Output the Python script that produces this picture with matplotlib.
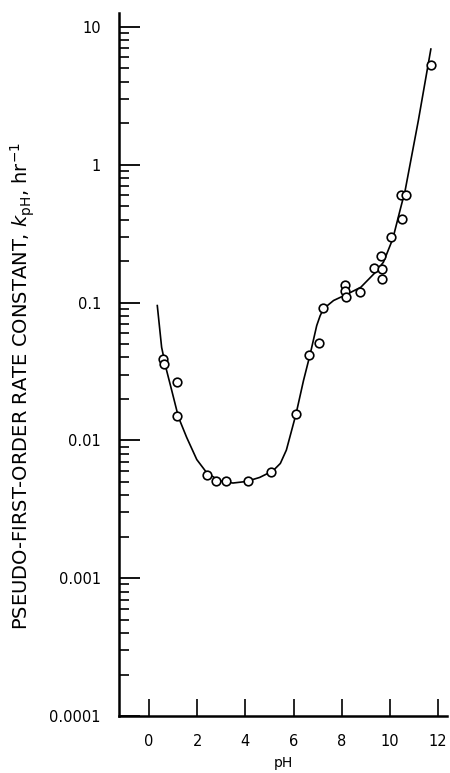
import numpy as np
import matplotlib
matplotlib.use("Agg")
import matplotlib.pyplot as plt
from matplotlib.ticker import LogLocator, FixedLocator, NullLocator

plt.rcParams['font.family'] = ['DejaVu Sans']
plt.rcParams['mathtext.fontset'] = 'dejavusans'

# measured points (pH, k)
ph_obs = [0.59, 0.63, 1.14, 1.17, 2.41, 2.77, 3.18, 4.09, 5.08, 6.10, 6.65, 7.07,
          7.23, 8.14, 8.14, 8.16, 8.76, 9.34, 9.66, 9.66, 9.62, 10.03, 10.51,
          10.45, 10.65, 11.71]
k_obs = [0.039, 0.0358, 0.0266, 0.0149, 0.00556, 0.00503, 0.00503, 0.00503,
         0.00588, 0.0155, 0.0419, 0.0506, 0.0915, 0.133, 0.121, 0.109, 0.119,
         0.179, 0.176, 0.149, 0.216, 0.298, 0.406, 0.60, 0.60, 5.25]

# fitted curve
ph_fit = [0.34, 0.52, 0.71, 0.94, 1.22, 1.56, 1.98, 2.40, 2.93, 3.48, 4.04, 4.59,
          5.14, 5.45, 5.70, 6.10, 6.41, 6.69, 6.96, 7.10, 7.24, 7.66, 8.18, 8.79,
          9.36, 9.73, 10.12, 10.42, 10.63, 11.18, 11.70]
k_fit = [0.095, 0.0473, 0.033, 0.023, 0.0147, 0.0105, 0.00725, 0.0058, 0.00509,
         0.0049, 0.00503, 0.00538, 0.006, 0.0068, 0.0085, 0.0155, 0.0271, 0.0423,
         0.068, 0.080, 0.090, 0.1034, 0.114, 0.129, 0.163, 0.196, 0.29, 0.467,
         0.647, 2.09, 6.9]

x_ticks = [0, 2, 4, 6, 8, 10, 12]
y_ticks = [0.0001, 0.001, 0.01, 0.1, 1, 10]
y_tick_labels = ['0.0001', '0.001', '0.01', '0.1', '1', '10']

fig = plt.figure(figsize=(4.5, 7.73), dpi=100)
ax = fig.add_axes([119 / 450, 57 / 773, 328 / 450, 703 / 773])

ax.plot(ph_fit, k_fit, color='black', linewidth=1.2)
ax.plot(ph_obs, k_obs, linestyle='none', marker='o', markersize=6.2,
        markerfacecolor='white', markeredgecolor='black', markeredgewidth=1.2)

ax.set_yscale('log')
ax.set_xlim(-1.25, 12.37)
ax.set_ylim(1e-4, 12.6)

ax.xaxis.set_major_locator(FixedLocator(x_ticks))
ax.xaxis.set_minor_locator(NullLocator())
ax.set_xticklabels([str(t) for t in x_ticks])
ax.yaxis.set_major_locator(FixedLocator(y_ticks))
ax.yaxis.set_minor_locator(LogLocator(base=10, subs=np.arange(2, 10)))
ax.set_yticklabels(y_tick_labels)

ax.tick_params(axis='y', which='major', direction='in', length=15, width=1.3,
               pad=13, labelsize=10.5)
ax.tick_params(axis='y', which='minor', direction='in', length=7, width=1.2)
ax.tick_params(axis='x', which='major', direction='in', length=12, width=1.2,
               pad=13, labelsize=10.5)

for side in ['top', 'right']:
    ax.spines[side].set_visible(False)
for side in ['left', 'bottom']:
    ax.spines[side].set_linewidth(1.8)

ax.set_xlabel('pH', fontsize=10, labelpad=5)
ax.set_ylabel(r'PSEUDO-FIRST-ORDER RATE CONSTANT, $k_{\mathrm{pH}}$, hr$^{-1}$',
              fontsize=14)
ax.yaxis.set_label_coords(-0.25, 0.47)

fig.savefig('out.png', dpi=100)
